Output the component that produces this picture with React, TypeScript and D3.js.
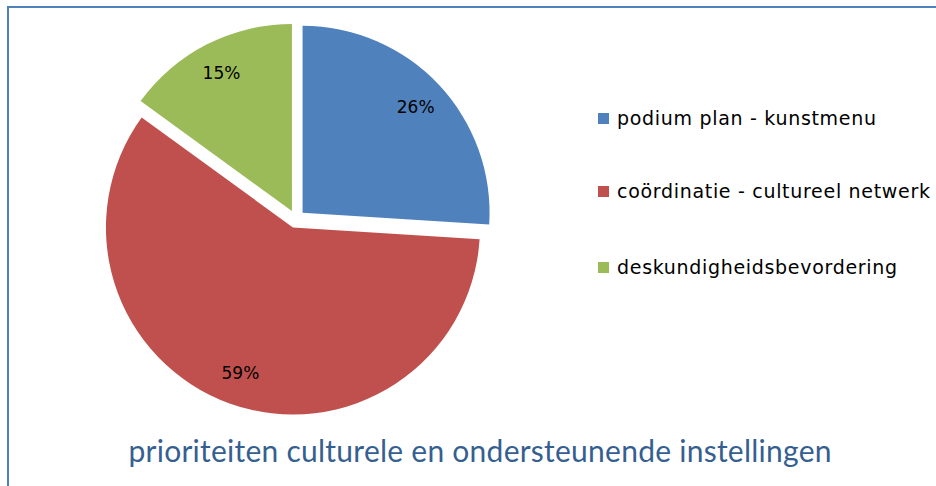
import React from "react";
import * as d3 from "d3";

const categories = ["podium plan - kunstmenu", "coördinatie - cultureel netwerk", "deskundigheidsbevordering"];
const values = [26, 59, 15];
const labels = ["26%", "59%", "15%"];
const colors = ["#4f81bd", "#c0504d", "#9bbb59"];
const title = "prioriteiten culturele en ondersteunende instellingen";

export default function App() {
  const W = 936, H = 486;
  const cx = 296, cy = 219, r = 187, explode = 9;
  const pie = d3.pie<number>().sort(null).value((d) => d)(values);
  const arc = d3.arc<d3.PieArcDatum<number>>().innerRadius(0).outerRadius(r);
  const labelArc = d3.arc<d3.PieArcDatum<number>>().innerRadius(r * 0.83).outerRadius(r * 0.83);
  const legendY = [118, 191, 267];
  const legendLen = [259, 313, 280];
  return (
    <svg width={W} height={H} style={{ position: "absolute", left: 0, top: 0 }}>
      <rect x={0} y={0} width={W} height={H} fill="#fff" />
      <rect x={8} y={7} width={W + 20} height={H + 20} fill="none" stroke="#4f81bd" strokeWidth={2} />
      {pie.map((p, i) => {
        const mid = (p.startAngle + p.endAngle) / 2;
        const dx = Math.sin(mid) * explode, dy = -Math.cos(mid) * explode;
        const c = labelArc.centroid(p);
        return (
          <g key={i} transform={`translate(${cx + dx},${cy + dy})`}>
            <path d={arc(p) || ""} fill={colors[i]} />
            <text x={c[0]} y={c[1]} textAnchor="middle" dominantBaseline="central" fontFamily="DejaVu Sans" fontSize={17} textLength={38} lengthAdjust="spacing" fill="#000">
              {labels[i]}
            </text>
          </g>
        );
      })}
      {categories.map((c, i) => (
        <g key={c}>
          <rect x={598} y={legendY[i] - 5} width={11} height={11} fill={colors[i]} />
          <text x={617} y={legendY[i]} dominantBaseline="central" fontFamily="DejaVu Sans" fontSize={19} textLength={legendLen[i]} lengthAdjust="spacing" fill="#000">
            {c}
          </text>
        </g>
      ))}
      <text x={480} y={450} textAnchor="middle" dominantBaseline="central" fontFamily="Lato" fontSize={30} textLength={703} lengthAdjust="spacing" fill="#365f91">
        {title}
      </text>
    </svg>
  );
}
